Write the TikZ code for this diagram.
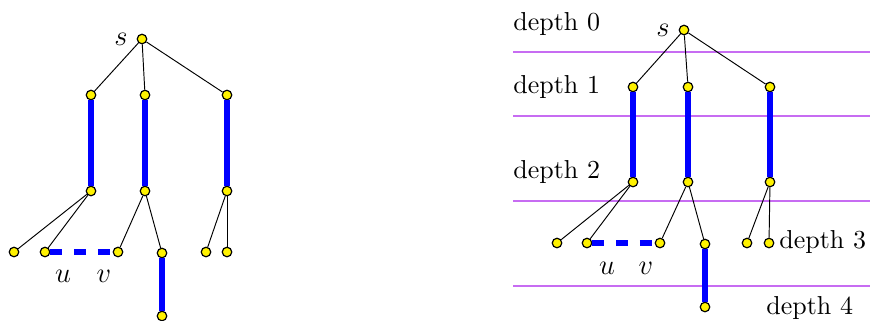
\documentclass[tikz,border=0pt]{standalone}
\usepackage{amsmath,amssymb}
\usepackage{xcolor}
\usepackage{tikz}
\usetikzlibrary{positioning,backgrounds}
\definecolor{cNd}{HTML}{FFF200}
\definecolor{cPth}{HTML}{0000FF}
\definecolor{cLvl}{HTML}{C76CF2}
\tikzset{
  nd/.style={circle,draw=black,fill=cNd,line width=0.5pt,inner sep=0pt,minimum size=4pt},
  tre/.style={line width=0.4pt,black},
  pth/.style={line width=2.2pt,cPth},
  pthd/.style={line width=2.2pt,cPth,dash pattern=on 5pt off 5pt},
  lvl/.style={line width=0.5pt,cLvl},
  lbl/.style={inner sep=0pt,anchor=west,font=\fontsize{10.9pt}{13pt}\selectfont},
  vlb/.style={inner sep=0pt,font=\fontsize{12pt}{14pt}\selectfont},
}
\begin{document}
\begin{tikzpicture}[x=0.42pt,y=-0.42pt]
  \useasboundingbox (0,0) rectangle (870,320);
  % --- left tree ---
  \node[nd] (ls)  at (142,39) {};
  \node[nd] (la1) at (91,95)  {};
  \node[nd] (lb1) at (145,95) {};
  \node[nd] (lc1) at (227,95) {};
  \node[nd] (la2) at (91,191) {};
  \node[nd] (lb2) at (145,191){};
  \node[nd] (lc2) at (227,191){};
  \node[nd] (lx3) at (14,252) {};
  \node[nd] (lu)  at (45,252) {};
  \node[nd] (lv)  at (118,252){};
  \node[nd] (lw3) at (162,253){};
  \node[nd] (ly3) at (206,252){};
  \node[nd] (lz3) at (227,252){};
  \node[nd] (lw4) at (162,316){};
  \node[vlb] (lsl) at (121,39) {$s$};
  \node[vlb] (lul) at (63,276) {$u$};
  \node[vlb] (lvl) at (104,276) {$v$};
  % --- left edges ---
  \draw[tre] (ls) -- (la1);
  \draw[tre] (ls) -- (lb1);
  \draw[tre] (ls) -- (lc1);
  \draw[pth] (la1) -- (la2);
  \draw[pth] (lb1) -- (lb2);
  \draw[pth] (lc1) -- (lc2);
  \draw[tre] (la2) -- (lx3);
  \draw[tre] (la2) -- (lu);
  \draw[tre] (lb2) -- (lv);
  \draw[tre] (lb2) -- (lw3);
  \draw[tre] (lc2) -- (ly3);
  \draw[tre] (lc2) -- (lz3);
  \draw[pthd] (lu) -- (lv);
  \draw[pth] (lw3) -- (lw4);
  % --- right tree, with depth lines ---
  \coordinate (h0l) at (513,52);  \coordinate (h0r) at (870,52);
  \coordinate (h1l) at (513,116); \coordinate (h1r) at (870,116);
  \coordinate (h2l) at (513,201); \coordinate (h2r) at (870,201);
  \coordinate (h3l) at (513,286); \coordinate (h3r) at (870,286);
  \draw[lvl] (h0l) -- (h0r);
  \draw[lvl] (h1l) -- (h1r);
  \draw[lvl] (h2l) -- (h2r);
  \draw[lvl] (h3l) -- (h3r);
  \node[nd] (rs)  at (684,30)  {};
  \node[nd] (ra1) at (633,87)  {};
  \node[nd] (rb1) at (688,87)  {};
  \node[nd] (rc1) at (770,87)  {};
  \node[nd] (ra2) at (633,182) {};
  \node[nd] (rb2) at (688,182) {};
  \node[nd] (rc2) at (770,182) {};
  \node[nd] (rx3) at (557,243) {};
  \node[nd] (ru)  at (587,243) {};
  \node[nd] (rv)  at (660,243) {};
  \node[nd] (rw3) at (705,244) {};
  \node[nd] (ry3) at (747,243) {};
  \node[nd] (rz3) at (769,243) {};
  \node[nd] (rw4) at (705,307) {};
  \node[vlb] (rsl) at (663,30) {$s$};
  \node[vlb] (rul) at (607,268) {$u$};
  \node[vlb] (rvl) at (646,268) {$v$};
  \draw[tre] (rs) -- (ra1);
  \draw[tre] (rs) -- (rb1);
  \draw[tre] (rs) -- (rc1);
  \draw[pth] (ra1) -- (ra2);
  \draw[pth] (rb1) -- (rb2);
  \draw[pth] (rc1) -- (rc2);
  \draw[tre] (ra2) -- (rx3);
  \draw[tre] (ra2) -- (ru);
  \draw[tre] (rb2) -- (rv);
  \draw[tre] (rb2) -- (rw3);
  \draw[tre] (rc2) -- (ry3);
  \draw[tre] (rc2) -- (rz3);
  \draw[pthd] (ru) -- (rv);
  \draw[pth] (rw3) -- (rw4);
  % --- depth labels ---
  \node[lbl] (d0) at (513,24)  {depth 0};
  \node[lbl] (d1) at (513,87)  {depth 1};
  \node[lbl] (d2) at (513,172) {depth 2};
  \node[lbl] (d3) at (779,242) {depth 3};
  \node[lbl] (d4) at (766,308) {depth 4};
\end{tikzpicture}
\end{document}
